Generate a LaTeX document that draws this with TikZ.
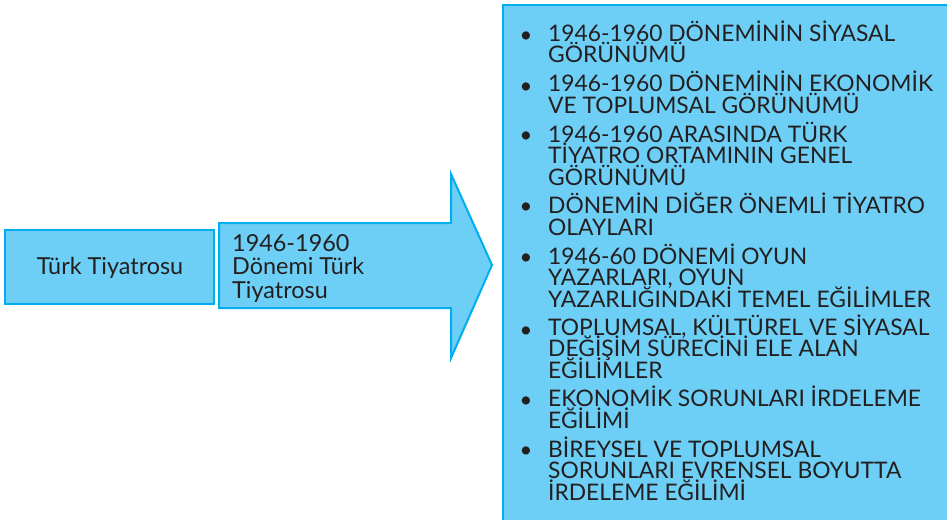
\documentclass[tikz,border=0pt]{standalone}
\usepackage{fontspec}
\setmainfont{Lato}
\definecolor{boxfill}{HTML}{6DCFF6}
\definecolor{boxline}{HTML}{00AEEF}
\definecolor{ink}{HTML}{231F20}
\newcommand\mytightlines{\lineskiplimit=-100pt\relax\lineskip=0pt\relax}
\begin{document}
\begin{tikzpicture}[x=1pt,y=-1pt,
  shapeline/.style={draw=boxline,fill=boxfill,line width=2pt},
  lbl/.style={text=ink,inner sep=0pt,align=left,font=\fontsize{23.4}{23.5}\selectfont\mytightlines},
  item/.style={text=ink,inner sep=0pt,align=left,anchor=base west,font=\fontsize{22.8}{21.3}\selectfont\mytightlines},
  bul/.style={text=ink,inner sep=0pt,anchor=base,font=\fontsize{22}{21.3}\selectfont}]
\useasboundingbox (0,0) rectangle (947,519);
\clip (0,0) rectangle (947,519);
% left box
\draw[shapeline] (5,230) rectangle (214,304);
\node[lbl,anchor=center] (lb) at (110,268) {Türk Tiyatrosu};
% arrow
\draw[shapeline] (219,223) -- (451,223) -- (451,174) -- (492,265) -- (451,358) -- (451,308) -- (219,308) -- cycle;
\node[lbl,anchor=base west] (ar) at (232,298) {1946-1960\\Dönemi Türk\\Tiyatrosu};
% right box
\draw[shapeline] (503,5) rectangle (960,530);
\foreach \n/\y/\z/\t in {
 1/43/63/{1946-1960 DÖNEMİNİN SİYASAL\\GÖRÜNÜMÜ},
 2/93/113/{1946-1960 DÖNEMİNİN EKONOMİK\\VE TOPLUMSAL GÖRÜNÜMÜ},
 3/142/185/{1946-1960 ARASINDA TÜRK\\TİYATRO ORTAMININ GENEL\\GÖRÜNÜMÜ},
 4/213/235/{DÖNEMİN DİĞER ÖNEMLİ TİYATRO\\OLAYLARI},
 5/264/307/{1946-60 DÖNEMİ OYUN\\YAZARLARI, OYUN\\YAZARLIĞINDAKİ TEMEL EĞİLİMLER},
 6/337/378/{TOPLUMSAL, KÜLTÜREL VE SİYASAL\\DEĞİŞİM SÜRECİNİ ELE ALAN\\EĞİLİMLER},
 7/407/428/{EKONOMİK SORUNLARI İRDELEME\\EĞİLİMİ},
 8/457/500/{BİREYSEL VE TOPLUMSAL\\SORUNLARI EVRENSEL BOYUTTA\\İRDELEME EĞİLİMİ}} {
  \node[bul] (b\n) at (526,\y) {•};
  \node[item] (i\n) at (548,\z) {\t};
}
\end{tikzpicture}
\end{document}
